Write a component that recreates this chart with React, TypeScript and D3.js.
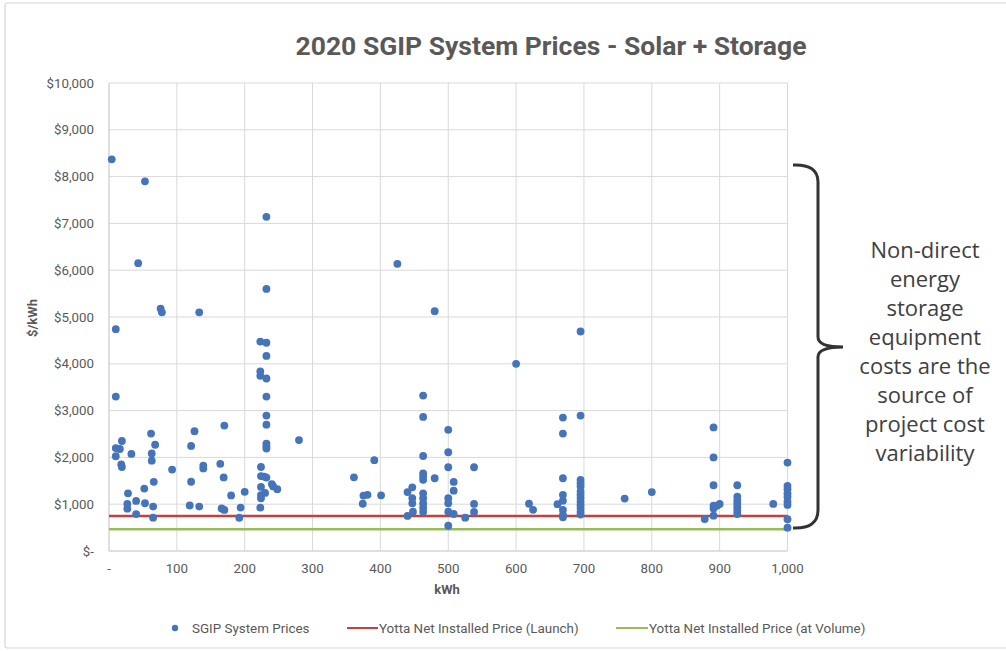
import * as d3 from 'd3';

// system size (kWh) and price ($/kWh) per SGIP project
const kwh = [
  4, 53, 43, 76, 78, 133, 10, 10, 10, 16, 19, 10, 18, 19, 33, 28, 27, 27, 40, 40,
  52, 53, 62, 68, 63, 63, 66, 65, 65, 93, 126, 121, 139, 139, 121, 119, 133, 170, 164, 169,
  180, 200, 166, 170, 194, 192,
  232, 232, 223, 232, 232, 223, 223, 232, 232, 232, 232, 232, 232, 232, 224, 224, 229, 232,
  224, 230, 224, 224, 223, 240, 242, 248, 280,
  361, 375, 381, 374, 391, 401, 425, 440, 447, 447, 447, 448, 440,
  463, 463, 463, 463, 463, 463, 463, 463, 463, 463, 463, 480, 480,
  500, 500, 500, 500, 500, 500, 500, 508, 508, 508, 525, 538, 538, 538, 600, 619, 625,
  669, 669, 669, 669, 669, 661, 669, 669, 669, 695, 695,
  695, 695, 695, 695, 695, 695, 695, 695, 695, 695, 695, 760, 800,
  891, 891, 891, 891, 896, 891, 891, 900, 878,
  926, 926, 926, 926, 926, 926, 926, 979,
  1000, 1000, 1000, 1000, 1000, 1000, 1000, 1000, 1000,
];
const pricePerKwh = [
  8370, 7900, 6150, 5180, 5100, 5100, 4740, 3300, 2200, 2180, 2350, 2025, 1850, 1795, 2075, 1233, 1005, 905, 1070, 790,
  1333, 1020, 2510, 2270, 2085, 1930, 1478, 950, 713, 1740, 2560, 2245, 1825, 1765, 1480, 972, 950, 2680, 1862, 1572,
  1188, 1265, 908, 877, 928, 710,
  7140, 5600, 4475, 4450, 4169, 3840, 3742, 3686, 3300, 2893, 2700, 2295, 2240, 2190, 1795, 1600, 1590, 1568,
  1370, 1240, 1195, 1125, 926, 1430, 1380, 1320, 2370,
  1575, 1185, 1200, 1010, 1940, 1190, 6136, 1260, 1360, 1130, 1020, 840, 750,
  3320, 2865, 2030, 1660, 1590, 1520, 1233, 1127, 1020, 926, 840, 1555, 5125,
  2590, 2110, 1790, 1127, 1020, 840, 540, 1475, 1290, 791, 713, 1790, 1005, 835, 4000, 1010, 880,
  2850, 2510, 1555, 1200, 1075, 1000, 880, 770, 720, 4690, 2893,
  1520, 1450, 1380, 1270, 1200, 1130, 1050, 980, 910, 840, 780, 1120, 1260,
  2640, 2000, 1405, 970, 965, 910, 755, 1005, 684,
  1405, 1160, 1076, 1005, 934, 862, 791, 1005,
  1890, 1390, 1320, 1233, 1161, 1054, 984, 678, 498,
];

const launchPrice = 750;
const volumePrice = 465;

const xTicks = [0, 100, 200, 300, 400, 500, 600, 700, 800, 900, 1000];
const yTicks = [0, 1000, 2000, 3000, 4000, 5000, 6000, 7000, 8000, 9000, 10000];

const legendLabels = [
  'SGIP System Prices',
  'Yotta Net Installed Price (Launch)',
  'Yotta Net Installed Price (at Volume)',
];
const noteLines = [
  'Non-direct', 'energy', 'storage', 'equipment', 'costs are the', 'source of', 'project cost', 'variability',
];

const W = 1006;
const H = 651;
const margin = { top: 83, right: 219, bottom: 100, left: 109 };
const font = 'Roboto, "Noto Sans", sans-serif';
const textGray = '#595959';
const gridGray = '#d9d9d9';
const dotBlue = '#4674bb';
const red = '#c2413e';
const green = '#9bbb59';

export default function App() {
  const x = d3.scaleLinear().domain([0, 1000]).range([margin.left, W - margin.right + 0.5]);
  const y = d3.scaleLinear().domain([0, 10000]).range([H - margin.bottom, margin.top]);
  const fmtX = (v: number) => (v === 0 ? '-' : d3.format(',')(v));
  const fmtY = (v: number) => (v === 0 ? '$-' : '$' + d3.format(',')(v));

  const points = kwh.map((k, i) => ({ k, p: pricePerKwh[i] }));
  const [x0, x1] = x.range();
  const midY = 347;

  return (
    <div style={{ position: 'absolute', left: 0, top: 0 }}>
      <svg width={W} height={H} style={{ display: 'block', fontFamily: font }}>
        <rect x={0} y={0} width={W} height={H} fill="#ffffff" />
        <rect x={5} y={3} width={W + 10} height={645} fill="#ffffff" stroke="#d6d6d6" strokeWidth={1.2} rx={2} />

        <text x={551} y={55} textAnchor="middle" fontSize={26.5} fontWeight={700} fill={textGray}>
          2020 SGIP System Prices - Solar + Storage
        </text>

        {/* grid */}
        {yTicks.map(t => (
          <line key={'gy' + t} x1={x0} x2={x1} y1={y(t)} y2={y(t)} stroke={t === 0 ? '#bfbfbf' : gridGray} strokeWidth={1} />
        ))}
        {xTicks.map(t => (
          <line key={'gx' + t} x1={x(t)} x2={x(t)} y1={y(0)} y2={y(10000)} stroke={t === 0 ? '#bfbfbf' : gridGray} strokeWidth={1} />
        ))}

        {/* tick labels */}
        {yTicks.map(t => (
          <text key={'ty' + t} x={94} y={y(t)} dy="0.35em" textAnchor="end" fontSize={13.3} fill={textGray}>
            {fmtY(t)}
          </text>
        ))}
        {xTicks.map(t => (
          <text key={'tx' + t} x={x(t)} y={568} dy="0.35em" textAnchor="middle" fontSize={13.3} fill={textGray}>
            {fmtX(t)}
          </text>
        ))}

        <text x={447} y={594} textAnchor="middle" fontSize={13} fontWeight={700} fill={textGray}>kWh</text>
        <text transform={`translate(37,318) rotate(-90)`} textAnchor="middle" fontSize={13} fontWeight={700} fill={textGray}>
          $/kWh
        </text>

        {/* price lines */}
        <line x1={x(0)} x2={x(1000)} y1={y(launchPrice)} y2={y(launchPrice)} stroke={red} strokeWidth={2.5} />
        <line x1={x(0)} x2={x(1000)} y1={y(volumePrice)} y2={y(volumePrice)} stroke={green} strokeWidth={2.5} />

        {/* points */}
        {points.map((d, i) => (
          <circle key={i} cx={x(d.k)} cy={y(d.p)} r={3.9} fill={dotBlue} />
        ))}

        {/* legend */}
        <g fontSize={13.4} fill={textGray}>
          <circle cx={175} cy={628} r={3.2} fill={dotBlue} />
          <text x={192} y={628} dy="0.35em">{legendLabels[0]}</text>
          <line x1={347} x2={378} y1={628} y2={628} stroke={red} strokeWidth={2} />
          <text x={379} y={628} dy="0.35em">{legendLabels[1]}</text>
          <line x1={616} x2={648} y1={628} y2={628} stroke={green} strokeWidth={2} />
          <text x={649} y={628} dy="0.35em">{legendLabels[2]}</text>
        </g>

        {/* bracket annotation */}
        <path
          d={`M793,165 Q818,164 818,182 L818,${midY - 10} Q818,${midY} 843,${midY} Q818,${midY} 818,${midY + 10} L818,510 Q818,529 793,528`}
          fill="none"
          stroke="#333333"
          strokeWidth={3}
        />
        {noteLines.map((l, i) => (
          <text key={l} x={925} y={250 + i * 29} dy="0.35em" textAnchor="middle" fontSize={22}
            fontFamily='"Open Sans", Roboto, sans-serif' fill="#404040">
            {l}
          </text>
        ))}
      </svg>
    </div>
  );
}
